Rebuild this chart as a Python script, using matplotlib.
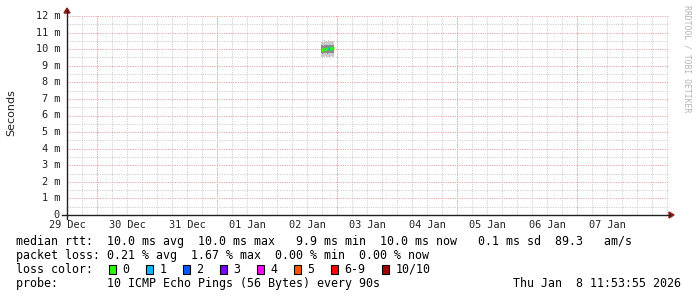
import numpy as np
import matplotlib.pyplot as plt
from matplotlib.patches import Polygon, Rectangle

# ── data ────────────────────────────────────────────────────────────────
# time axis in hours since graph start (Mon Dec 29 11:53:55)
first_midnight = 12.1
span_hours = 240.8
day_labels = ["29 Dec", "30 Dec", "31 Dec", "01 Jan", "02 Jan",
              "03 Jan", "04 Jan", "05 Jan", "06 Jan", "07 Jan"]
y_ticks = [0, 1, 2, 3, 4, 5, 6, 7, 8, 9, 10, 11, 12]
y_tick_labels = ["0", "1 m", "2 m", "3 m", "4 m", "5 m", "6 m",
                 "7 m", "8 m", "9 m", "10 m", "11 m", "12 m"]

# smoke (ms) for the only stretch with data, around Jan 2 evening
smoke_t = [101.6, 102.0, 102.4, 102.8, 103.2, 103.6, 104.0,
           104.4, 104.8, 105.2, 105.6, 106.0, 106.4, 106.8]
smoke_lo = [9.55, 9.52, 9.55, 9.53, 9.56, 9.55, 9.52,
            9.54, 9.55, 9.53, 9.56, 9.55, 9.55]
smoke_q1 = [9.75, 9.72, 9.78, 9.74, 9.76, 9.78, 9.73,
            9.76, 9.74, 9.77, 9.75, 9.76, 9.76]
smoke_q3 = [10.25, 10.28, 10.22, 10.26, 10.24, 10.27, 10.23,
            10.26, 10.25, 10.28, 10.24, 10.26, 10.26]
smoke_hi = [10.45, 10.50, 10.42, 10.55, 10.48, 10.52, 10.45,
            10.55, 10.50, 10.47, 10.52, 10.48, 10.48]
median = [9.95, 9.97, 10.00, 9.98, 10.02, 10.00, 10.03,
          10.05, 10.04, 10.02, 10.05, 10.06, 10.06]
loss = [0, 0, 0, 0, 0, 0, 0, 1, 1, 0, 0, 0, 0]

loss_names = ["0", "1", "2", "3", "4", "5", "6-9", "10/10"]
loss_colors = ["#26ff00", "#00b8ff", "#0059ff", "#7e00ff",
               "#ff00ff", "#ff5500", "#ff0000", "#a10000"]

legend_rtt = "median rtt:  10.0 ms avg  10.0 ms max   9.9 ms min  10.0 ms now   0.1 ms sd  89.3   am/s"
legend_loss = "packet loss: 0.21 % avg  1.67 % max  0.00 % min  0.00 % now"
legend_probe = "probe:       10 ICMP Echo Pings (56 Bytes) every 90s"
stamp = "Thu Jan  8 11:53:55 2026"

# ── figure ──────────────────────────────────────────────────────────────
W, H = 697, 297
fig = plt.figure(figsize=(W / 100, H / 100), dpi=100)
fig.patch.set_facecolor("white")

def fx(px):
    return px / W

def fy(py):
    return 1 - py / H

x0, x1, ytop, ybot = 67, 669, 16, 215
ax = fig.add_axes([fx(x0), fy(ybot), fx(x1) - fx(x0), fy(ytop) - fy(ybot)])
ax.set_xlim(0, span_hours)
ax.set_ylim(0, 12)
for s in ax.spines.values():
    s.set_visible(False)
ax.set_xticks([])
ax.set_yticks([])

mono = "DejaVu Sans Mono"
minor_c, major_c = "#cfcfcf", "#eaa6a6"
dash = (0, (1.2, 1.2))

# grid
for h in np.arange(first_midnight - 6, span_hours, 6):
    if h <= 0:
        continue
    ax.axvline(h, color=minor_c, lw=0.7, ls=dash, zorder=1)
for h in np.arange(first_midnight, span_hours, 48):
    ax.axvline(h, color=major_c, lw=0.7, ls=dash, zorder=1.5)
for v in np.arange(0.5, 12.01, 1.0):
    ax.axhline(v, color=minor_c, lw=0.7, ls=dash, zorder=1)
for v in y_ticks[1:]:
    ax.axhline(v, color=major_c, lw=0.7, ls=dash, zorder=1.5)

# smoke
ax.stairs(smoke_hi, smoke_t, baseline=smoke_lo, fill=True, color="#cbcbcb", lw=0, zorder=2)
ax.stairs(smoke_q3, smoke_t, baseline=smoke_q1, fill=True, color="#8c8c8c", lw=0, zorder=3)
for i in range(len(median)):
    ax.plot([smoke_t[i], smoke_t[i + 1]], [median[i], median[i]],
            color=loss_colors[loss[i]], lw=2.2, solid_capstyle="butt", zorder=4)
    if i + 1 < len(median):
        ax.plot([smoke_t[i + 1], smoke_t[i + 1]], [median[i], median[i + 1]],
                color=loss_colors[loss[i]], lw=1.2, zorder=4)

# axis lines and arrows
axis_c = "#222222"
arrow_c = "#8b1a1a"
fig.add_artist(plt.Line2D([fx(62), fx(670)], [fy(ybot), fy(ybot)], color=axis_c, lw=1.0))
fig.add_artist(plt.Line2D([fx(x0), fx(x0)], [fy(219), fy(10)], color=axis_c, lw=1.0))
fig.add_artist(Polygon([[fx(669), fy(212)], [fx(674), fy(ybot)], [fx(669), fy(218)]],
                       closed=True, color=arrow_c, transform=fig.transFigure))
fig.add_artist(Polygon([[fx(64), fy(13)], [fx(x0), fy(8)], [fx(70), fy(13)]],
                       closed=True, color=arrow_c, transform=fig.transFigure))

# tick labels
for v, lab in zip(y_ticks, y_tick_labels):
    ax.text(-7 * span_hours / (x1 - x0), v, lab, ha="right", va="center",
            fontsize=7.4, family=mono, color="#222222")
for i, lab in enumerate(day_labels):
    ax.text(first_midnight - 12 + 24 * i, -0.62, lab, ha="center", va="center",
            fontsize=7.4, family=mono, color="#222222", clip_on=False)

fig.text(fx(11), fy(113), "Seconds", rotation=90, ha="center", va="center",
         fontsize=8, family="DejaVu Sans", color="#222222")
fig.text(fx(687), fy(5), "RRDTOOL / TOBI OETIKER", rotation=-90, ha="center", va="top",
         fontsize=5.9, family=mono, color="#b4b4b4")

# legend
leg_fs = 8.4
fig.text(fx(16), fy(241.5), legend_rtt, ha="left", va="center", fontsize=leg_fs, family=mono)
fig.text(fx(16), fy(255.5), legend_loss, ha="left", va="center", fontsize=leg_fs, family=mono)
fig.text(fx(16), fy(269.3), "loss color:", ha="left", va="center", fontsize=leg_fs, family=mono)
box_x = [108.5, 145.5, 182.5, 219.5, 256.5, 293.5, 330.5, 381.5]
for bx, name, col in zip(box_x, loss_names, loss_colors):
    fig.add_artist(Rectangle((fx(bx), fy(273.5)), fx(7.5), 8.3 / H, facecolor=col,
                             edgecolor="black", lw=0.8, transform=fig.transFigure))
    fig.text(fx(bx + 14), fy(269.3), name, ha="left", va="center", fontsize=leg_fs, family=mono)
fig.text(fx(16), fy(283.3), legend_probe, ha="left", va="center", fontsize=leg_fs, family=mono)
fig.text(fx(681), fy(283.3), stamp, ha="right", va="center", fontsize=leg_fs, family=mono)

fig.savefig("out.png", dpi=100)
